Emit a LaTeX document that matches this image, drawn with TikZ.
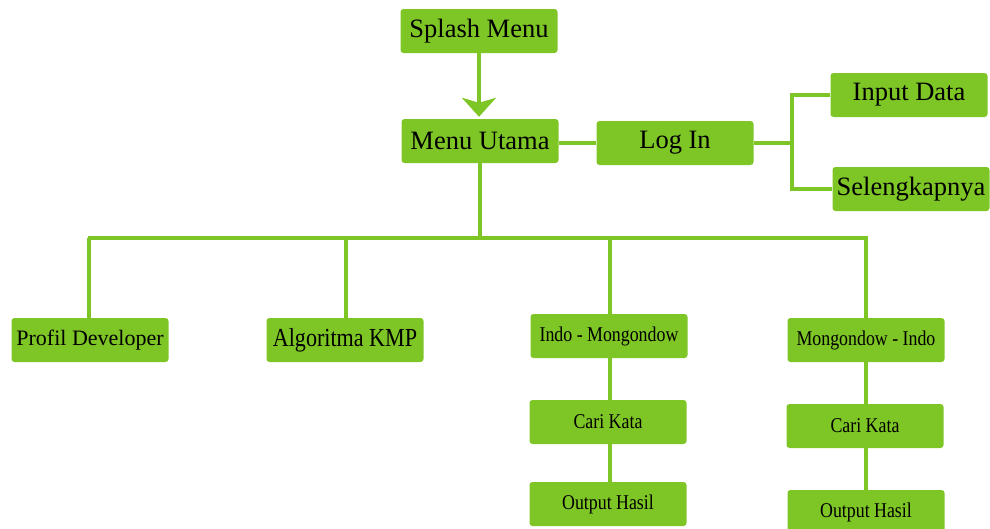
\documentclass[tikz,border=0pt]{standalone}
\usepackage{fontspec}
\setmainfont{Liberation Serif}
\newfontfamily\narrowserif[FakeStretch=0.85]{Liberation Serif}
\usetikzlibrary{arrows.meta}
\definecolor{leaf}{RGB}{126,198,38}
\tikzset{
  box/.style={fill=leaf, rounded corners=3pt, minimum width=157pt,
    minimum height=44pt, inner sep=0pt, text=black},
  bigtext/.style={font=\fontsize{26.5}{28}\selectfont},
  midtext/.style={font=\fontsize{22}{24}\selectfont},
  kmptext/.style={font=\narrowserif\fontsize{26}{28}\selectfont},
  smalltext/.style={font=\narrowserif\fontsize{21}{23}\selectfont},
  link/.style={draw=leaf, line width=4pt},
}
\begin{document}
\begin{tikzpicture}[x=1pt, y=-1pt]
\path[use as bounding box] (0,0) rectangle (990,528);
\clip (0,0) rectangle (990,528);

% top level
\node[box, bigtext] (splash) at (479,31) {Splash Menu};
\node[box, bigtext] (menu)   at (480,141) {Menu Utama};
\node[box, bigtext] (login)  at (675,143) {Log In};
\node[box, bigtext] (input)  at (909,95) {Input Data};
\node[box, bigtext] (sel)    at (911,189) {Selengkapnya};

% second level
\node[box, midtext]   (profil) at (90,340)  {Profil Developer};
\node[box, kmptext]   (kmp)    at (345,340) {Algoritma KMP};
\node[box, smalltext] (indo)   at (609,336) {Indo - Mongondow};
\node[box, smalltext] (mongo)  at (866,340) {Mongondow - Indo};

% third and fourth level
\node[box, smalltext] (cari1) at (608,422) {Cari Kata};
\node[box, smalltext] (out1)  at (608,504) {Output Hasil};
\node[box, smalltext] (cari2) at (865,426) {Cari Kata};
\node[box, smalltext] (out2)  at (866,512) {Output Hasil};

% helper points for the bus and the log-in fork
\coordinate (bus)  at (479,238);
\coordinate (fork) at (792,143);

% splash to main menu
\draw[link, -{Stealth[length=19pt, width=34pt, inset=5pt]}, shorten >=2pt]
  (splash.south) -- (splash.south |- menu.north);

% main menu to log in and its two options
\draw[link] (login.west -| menu.east) -- (login.west);
\draw[link] (login.east) -- (login.east -| fork);
\draw[link] (input.west) -- (input.west -| fork) -- (sel.west -| fork) -- (sel.west);

% main menu to the bus and the drops
\draw[link] (menu.south) -- (menu.south |- bus);
\draw[link] ([xshift=-2pt]profil.north |- bus) -- ([xshift=2pt]mongo.north |- bus);
\draw[link] ([xshift=-1pt]profil.north |- bus) -- ([xshift=-1pt]profil.north);
\draw[link] ([xshift=1pt]kmp.north |- bus) -- ([xshift=1pt]kmp.north);
\draw[link] ([xshift=1pt]indo.north |- bus) -- ([xshift=1pt]indo.north);
\draw[link] (mongo.north |- bus) -- (mongo.north);

% translation branches
\draw[link] ([xshift=1pt]indo.south) -- ([xshift=2pt]cari1.north);
\draw[link] ([xshift=2pt]cari1.south) -- ([xshift=2pt]out1.north);
\draw[link] (mongo.south) -- ([xshift=1pt]cari2.north);
\draw[link] ([xshift=1pt]cari2.south) -- (out2.north);
\end{tikzpicture}
\end{document}
